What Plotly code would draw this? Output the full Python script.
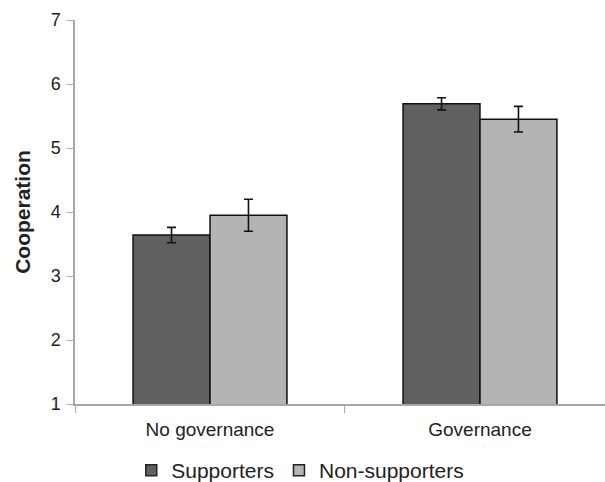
import plotly.graph_objects as go

categories = ["No governance", "Governance"]
series_names = ["Supporters", "Non-supporters"]
supporters = [3.64, 5.69]
supporters_err = [0.12, 0.095]
non_supporters = [3.95, 5.45]
non_supporters_err = [0.25, 0.2]
y_ticks = [1, 2, 3, 4, 5, 6, 7]
colors = ["#606060", "#b4b4b4"]

fig = go.Figure()
for name, vals, errs, col in zip(series_names, [supporters, non_supporters],
                                 [supporters_err, non_supporters_err], colors):
    fig.add_trace(go.Bar(
        name=name, x=categories, y=vals, showlegend=False,
        marker=dict(color=col, line=dict(color="#111111", width=1.5)),
        error_y=dict(type="data", array=errs, color="#111111", thickness=1.6, width=4.5),
    ))
for name, col in zip(series_names, colors):
    fig.add_trace(go.Scatter(
        name=name, x=[None], y=[None], mode="markers",
        marker=dict(symbol="square", size=11, color=col, line=dict(color="#222222", width=1.5)),
    ))

fig.update_layout(
    width=605, height=482,
    margin=dict(l=75, r=0, t=20, b=78, autoexpand=False),
    paper_bgcolor="white", plot_bgcolor="white",
    barmode="group", bargap=0.43, bargroupgap=0,
    font=dict(family="Liberation Sans, Arial, sans-serif", color="#222222"),
    showlegend=True,
    legend=dict(orientation="h", x=0.425, xanchor="center", y=-0.12, yanchor="top",
                font=dict(size=21, color="#222222"), traceorder="normal",
                itemclick=False, itemdoubleclick=False),
)
fig.update_xaxes(
    type="category", range=[-0.5, 1.463], automargin=False,
    showline=True, linecolor="#a8a8a8", linewidth=1.5,
    ticks="outside", tickson="boundaries", ticklen=7, tickcolor="#a8a8a8",
    tickfont=dict(size=19, color="#222222"), showgrid=False, ticklabelstandoff=7,
)
fig.update_yaxes(
    range=[1, 7], tickvals=y_ticks, automargin=False,
    showline=True, linecolor="#a8a8a8", linewidth=1.5,
    ticks="outside", ticklen=6, tickcolor="#a8a8a8",
    tickfont=dict(size=18, color="#222222"), showgrid=False, zeroline=False,
    ticklabelstandoff=3,
    title=dict(text="<b>Cooperation</b>", font=dict(size=21, color="#222222"), standoff=14),
)

fig.write_html("out.html", config={"displayModeBar": False},
               post_script="document.body.style.margin='0';")
